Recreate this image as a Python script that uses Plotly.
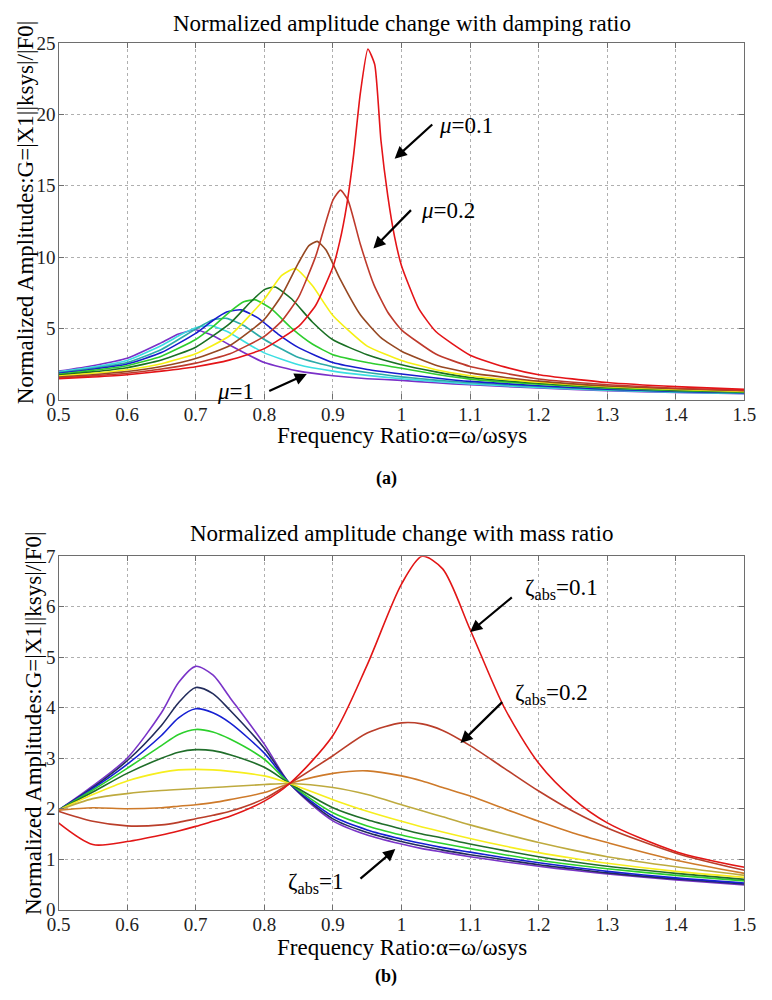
import plotly.graph_objects as go

# ---- (a) amplitude vs frequency ratio, curves for mu = 0.1 ... 1 ----
mu_values = ['0.1', '0.2', '0.3', '0.4', '0.5', '0.6', '0.7', '0.8', '0.9', '1']
colors_a = ['rgb(228,20,24)', 'rgb(190,58,44)', 'rgb(150,72,34)', 'rgb(246,240,20)',
            'rgb(26,112,36)', 'rgb(46,205,46)', 'rgb(24,28,205)', 'rgb(44,170,168)',
            'rgb(60,222,226)', 'rgb(122,48,200)']

alpha_mu01 = [0.5, 0.55, 0.6, 0.65, 0.7, 0.75, 0.8, 0.85, 0.875, 0.9, 0.91, 0.92, 0.93, 0.94,
              0.951, 0.961, 0.97, 0.98, 0.99, 1.0, 1.025, 1.05, 1.1, 1.15, 1.2, 1.3, 1.4, 1.5]
g_mu01 = [1.46, 1.59, 1.75, 2.0, 2.31, 2.79, 3.58, 5.14, 6.62, 9.3, 11.1, 13.6, 17.1, 21.5,
          24.6, 23.5, 18.2, 14.3, 11.4, 9.4, 6.4, 4.78, 3.12, 2.3, 1.75, 1.2, 0.91, 0.72]

alpha_mu02 = [0.5, 0.55, 0.6, 0.65, 0.7, 0.75, 0.8, 0.825, 0.85, 0.875, 0.89, 0.9, 0.911, 0.922,
              0.94, 0.96, 0.98, 1.0, 1.05, 1.1, 1.2, 1.3, 1.4, 1.5]
g_mu02 = [1.52, 1.67, 1.85, 2.15, 2.56, 3.22, 4.44, 5.49, 7.19, 10.07, 12.5, 14.0, 14.7, 14.0,
          10.9, 8.03, 6.13, 4.9, 3.2, 2.33, 1.45, 1.05, 0.8, 0.65]

alpha_mu03 = [0.5, 0.55, 0.6, 0.65, 0.7, 0.75, 0.8, 0.825, 0.85, 0.865, 0.877, 0.89, 0.91, 0.94,
              0.97, 1.0, 1.05, 1.1, 1.2, 1.3, 1.4, 1.5]
g_mu03 = [1.58, 1.75, 1.97, 2.32, 2.88, 3.8, 5.63, 7.29, 9.61, 10.8, 11.1, 10.5, 8.5, 5.95,
          4.35, 3.4, 2.42, 1.88, 1.3, 0.96, 0.76, 0.62]

alpha_mu04 = [0.5, 0.55, 0.6, 0.65, 0.7, 0.75, 0.8, 0.825, 0.845, 0.87, 0.9, 0.95, 1.0, 1.05,
              1.1, 1.2, 1.3, 1.4, 1.5]
g_mu04 = [1.65, 1.85, 2.1, 2.52, 3.22, 4.5, 7.05, 8.7, 9.2, 8.0, 5.9, 3.75, 2.75, 2.1,
          1.68, 1.22, 0.9, 0.71, 0.58]

alpha_mu05 = [0.5, 0.55, 0.6, 0.65, 0.7, 0.75, 0.78, 0.8, 0.816, 0.84, 0.87, 0.9, 0.95, 1.0,
              1.05, 1.1, 1.2, 1.3, 1.4, 1.5]
g_mu05 = [1.72, 1.95, 2.24, 2.78, 3.68, 5.35, 6.85, 7.72, 7.9, 7.06, 5.45, 4.2, 3.15, 2.45,
          1.95, 1.55, 1.15, 0.86, 0.67, 0.55]

alpha_mu06 = [0.5, 0.55, 0.6, 0.65, 0.7, 0.725, 0.75, 0.77, 0.787, 0.81, 0.84, 0.87, 0.9, 0.95,
              1.0, 1.05, 1.1, 1.2, 1.3, 1.4, 1.5]
g_mu06 = [1.78, 2.05, 2.38, 3.05, 4.22, 5.12, 6.18, 6.87, 7.0, 6.38, 5.0, 3.9, 3.15, 2.6,
          2.2, 1.78, 1.44, 1.08, 0.8, 0.63, 0.52]

alpha_mu07 = [0.5, 0.55, 0.6, 0.65, 0.7, 0.725, 0.745, 0.766, 0.79, 0.82, 0.85, 0.9, 0.95, 1.0,
              1.05, 1.1, 1.2, 1.3, 1.4, 1.5]
g_mu07 = [1.85, 2.13, 2.5, 3.3, 4.65, 5.55, 6.14, 6.3, 5.75, 4.6, 3.65, 2.6, 2.12, 1.8,
          1.52, 1.28, 0.98, 0.74, 0.58, 0.48]

alpha_mu08 = [0.5, 0.55, 0.6, 0.65, 0.7, 0.725, 0.745, 0.77, 0.8, 0.85, 0.9, 0.95, 1.0, 1.05,
              1.1, 1.2, 1.3, 1.4, 1.5]
g_mu08 = [1.9, 2.2, 2.6, 3.52, 4.95, 5.6, 5.7, 5.2, 4.22, 2.95, 2.3, 1.9, 1.6, 1.37,
          1.18, 0.92, 0.7, 0.55, 0.46]

alpha_mu09 = [0.5, 0.55, 0.6, 0.65, 0.68, 0.7, 0.722, 0.75, 0.78, 0.8, 0.85, 0.9, 0.95, 1.0,
              1.05, 1.1, 1.2, 1.3, 1.4, 1.5]
g_mu09 = [1.95, 2.28, 2.75, 3.8, 4.6, 5.05, 5.2, 4.68, 3.8, 3.28, 2.45, 2.0, 1.7, 1.47,
          1.27, 1.1, 0.86, 0.66, 0.52, 0.44]

alpha_mu10 = [0.5, 0.55, 0.6, 0.65, 0.675, 0.7, 0.725, 0.75, 0.8, 0.85, 0.9, 0.95, 1.0, 1.05,
              1.1, 1.2, 1.3, 1.4, 1.5]
g_mu10 = [2.0, 2.38, 2.9, 4.0, 4.6, 4.9, 4.5, 3.82, 2.6, 2.0, 1.68, 1.47, 1.35, 1.18,
          1.04, 0.82, 0.62, 0.5, 0.42]

# ---- (b) amplitude vs frequency ratio, curves for zeta_abs = 0.1 ... 1 ----
zeta_values = ['0.1', '0.2', '0.3', '0.4', '0.5', '0.6', '0.7', '0.8', '0.9', '1']
colors_b = ['rgb(226,22,22)', 'rgb(186,62,42)', 'rgb(206,122,42)', 'rgb(190,170,62)',
            'rgb(246,238,30)', 'rgb(32,110,42)', 'rgb(44,208,44)', 'rgb(22,32,210)',
            'rgb(34,44,92)', 'rgb(122,52,200)']

alpha_b = [0.5, 0.55, 0.6, 0.65, 0.675, 0.7, 0.725, 0.75, 0.8, 0.837, 0.9, 0.95, 1.0, 1.03,
           1.06, 1.1, 1.15, 1.2, 1.25, 1.3, 1.4, 1.5]
g_z01 = [1.72, 1.29, 1.35, 1.48, 1.56, 1.65, 1.75, 1.85, 2.15, 2.5, 3.45, 4.85, 6.45, 7.0,
         6.75, 5.55, 4.0, 2.9, 2.2, 1.72, 1.15, 0.84]
g_z02 = [1.95, 1.75, 1.66, 1.68, 1.73, 1.8, 1.87, 1.95, 2.2, 2.5, 3.05, 3.5, 3.7, 3.68,
         3.55, 3.25, 2.8, 2.35, 1.95, 1.62, 1.12, 0.78]
g_z03 = [1.97, 2.02, 2.0, 2.02, 2.05, 2.08, 2.12, 2.18, 2.32, 2.5, 2.7, 2.75, 2.65, 2.55,
         2.42, 2.25, 2.0, 1.75, 1.52, 1.33, 0.98, 0.72]
g_z04 = [1.97, 2.2, 2.3, 2.36, 2.38, 2.4, 2.42, 2.44, 2.48, 2.5, 2.42, 2.28, 2.08, 1.96,
         1.84, 1.68, 1.5, 1.33, 1.18, 1.05, 0.85, 0.68]
g_z05 = [1.97, 2.28, 2.55, 2.72, 2.77, 2.78, 2.77, 2.74, 2.65, 2.5, 2.18, 1.95, 1.75, 1.64,
         1.54, 1.41, 1.26, 1.13, 1.02, 0.92, 0.76, 0.64]
g_z06 = [1.97, 2.33, 2.7, 3.0, 3.12, 3.17, 3.15, 3.07, 2.82, 2.5, 2.02, 1.78, 1.6, 1.5,
         1.42, 1.3, 1.17, 1.05, 0.95, 0.86, 0.72, 0.6]
g_z07 = [1.97, 2.37, 2.8, 3.25, 3.47, 3.57, 3.52, 3.38, 2.98, 2.5, 1.92, 1.66, 1.48, 1.39,
         1.31, 1.21, 1.09, 0.98, 0.89, 0.81, 0.68, 0.57]
g_z08 = [1.97, 2.4, 2.88, 3.45, 3.8, 3.98, 3.9, 3.7, 3.1, 2.5, 1.85, 1.58, 1.4, 1.31,
         1.23, 1.14, 1.03, 0.93, 0.84, 0.76, 0.63, 0.53]
g_z09 = [1.97, 2.42, 2.95, 3.65, 4.1, 4.4, 4.28, 3.95, 3.2, 2.5, 1.8, 1.53, 1.35, 1.26,
         1.18, 1.09, 0.99, 0.89, 0.81, 0.73, 0.61, 0.51]
g_z10 = [1.97, 2.45, 3.0, 3.9, 4.5, 4.82, 4.65, 4.2, 3.28, 2.5, 1.76, 1.48, 1.3, 1.21,
         1.14, 1.05, 0.95, 0.86, 0.78, 0.71, 0.59, 0.49]

x_ticks = [0.5, 0.6, 0.7, 0.8, 0.9, 1.0, 1.1, 1.2, 1.3, 1.4, 1.5]
x_ticktext = ['0.5', '0.6', '0.7', '0.8', '0.9', '1', '1.1', '1.2', '1.3', '1.4', '1.5']

SERIF = 'Liberation Serif'
W, H = 772, 1000

curves_a = [(alpha_mu01, g_mu01), (alpha_mu02, g_mu02), (alpha_mu03, g_mu03),
            (alpha_mu04, g_mu04), (alpha_mu05, g_mu05), (alpha_mu06, g_mu06),
            (alpha_mu07, g_mu07), (alpha_mu08, g_mu08), (alpha_mu09, g_mu09),
            (alpha_mu10, g_mu10)]
curves_b = [g_z01, g_z02, g_z03, g_z04, g_z05, g_z06, g_z07, g_z08, g_z09, g_z10]

fig = go.Figure()

# draw mu=1 first so the red curve ends up on top, like the original
for i in reversed(range(len(curves_a))):
    xs, ys = curves_a[i]
    fig.add_trace(go.Scatter(x=xs, y=ys, mode='lines', name='mu=' + mu_values[i],
                             line=dict(color=colors_a[i], width=1.6, shape='spline', smoothing=0.5),
                             xaxis='x', yaxis='y', showlegend=False, hoverinfo='skip'))

for i in reversed(range(len(curves_b))):
    fig.add_trace(go.Scatter(x=alpha_b, y=curves_b[i], mode='lines', name='zeta=' + zeta_values[i],
                             line=dict(color=colors_b[i], width=1.6, shape='spline', smoothing=0.8),
                             xaxis='x2', yaxis='y2', showlegend=False, hoverinfo='skip'))

axis_style = dict(showline=True, linecolor='rgb(110,110,110)', linewidth=1.3, mirror='ticks',
                  ticks='inside', ticklen=5, tickcolor='rgb(110,110,110)', tickwidth=1,
                  showgrid=True, gridcolor='rgb(175,175,175)', griddash='dot', gridwidth=1,
                  zeroline=False, tickfont=dict(family=SERIF, size=19, color='rgb(30,30,30)'))

x_dom = [48 / W, 756 / W]
fig.update_layout(
    width=W, height=H, margin=dict(l=0, r=0, t=0, b=0),
    paper_bgcolor='white', plot_bgcolor='white',
    xaxis=dict(axis_style, domain=x_dom, anchor='y', range=[0.5, 1.5],
               tickvals=x_ticks, ticktext=x_ticktext, ticklabelstandoff=-3),
    yaxis=dict(axis_style, domain=[1 - 398 / H, 1 - 34 / H], anchor='x', range=[0, 25], dtick=5,
               ticklabelstandoff=-2),
    xaxis2=dict(axis_style, domain=x_dom, anchor='y2', range=[0.5, 1.5],
                tickvals=x_ticks, ticktext=x_ticktext, ticklabelstandoff=-3),
    yaxis2=dict(axis_style, domain=[1 - 919 / H, 1 - 558 / H], anchor='x2', range=[0, 7], dtick=1,
                ticklabelstandoff=-2),
)

ytitle = 'Normalized Amplitudes:G=|X1||ksys|/|F0|'
xtitle = 'Frequency Ratio:α=ω/ωsys'
cx = (x_dom[0] + x_dom[1]) / 2


def paper_text(text, x, y, size, bold=False, angle=0):
    if bold:
        text = '<b>' + text + '</b>'
    fig.add_annotation(text=text, x=x, y=y, xref='paper', yref='paper', showarrow=False,
                       xanchor='center', yanchor='middle', textangle=angle,
                       font=dict(family=SERIF, size=size, color='black'))


paper_text('Normalized amplitude change with damping ratio', cx, 1 - 14 / H, 23)
paper_text(xtitle, cx, 1 - 435 / H, 23)
paper_text('(a)', 386 / W, 1 - 479 / H, 18, bold=True)
paper_text(ytitle, 14 / W, 1 - 207 / H, 23, angle=-90)

paper_text('Normalized amplitude change with mass ratio', cx, 1 - 535 / H, 23)
paper_text(xtitle, cx, 1 - 958 / H, 23)
paper_text('(b)', 386 / W, 1 - 987 / H, 18, bold=True)
paper_text(ytitle, 22 / W, 1 - 728 / H, 23, angle=-90)


def label(text, x, y, xa, ya):
    fig.add_annotation(text=text, x=x, y=y, xref=xa, yref=ya, showarrow=False,
                       xanchor='center', yanchor='middle',
                       font=dict(family=SERIF, size=23, color='black'))


def arrow(x_tail, y_tail, x_head, y_head, xa, ya):
    fig.add_annotation(text='', x=x_head, y=y_head, ax=x_tail, ay=y_tail,
                       xref=xa, yref=ya, axref=xa, ayref=ya, showarrow=True,
                       arrowhead=2, arrowsize=1.1, arrowwidth=2.2, arrowcolor='black',
                       standoff=0, startstandoff=0)


# labels in panel (a)
label('<i>μ</i>=0.1', 1.094, 19.2, 'x', 'y')
arrow(1.047, 19.4, 0.99, 16.9, 'x', 'y')
label('<i>μ</i>=0.2', 1.068, 13.3, 'x', 'y')
arrow(1.016, 13.4, 0.959, 10.6, 'x', 'y')
label('<i>μ</i>=1', 0.758, 0.6, 'x', 'y')
arrow(0.805, 0.55, 0.862, 1.8, 'x', 'y')

# labels in panel (b)
label('ζ<sub>abs</sub>=0.1', 1.233, 6.36, 'x2', 'y2')
arrow(1.163, 6.21, 1.1, 5.5, 'x2', 'y2')
label('ζ<sub>abs</sub>=0.2', 1.219, 4.27, 'x2', 'y2')
arrow(1.149, 4.14, 1.086, 3.3, 'x2', 'y2')
label('ζ<sub>abs</sub>=1', 0.875, 0.52, 'x2', 'y2')
arrow(0.938, 0.59, 0.991, 1.2, 'x2', 'y2')

# the page is photographed at exactly 772x1000, so drop the default body margin
fig.write_html('out.html', config={'displayModeBar': False},
               post_script="document.body.style.margin='0';")
